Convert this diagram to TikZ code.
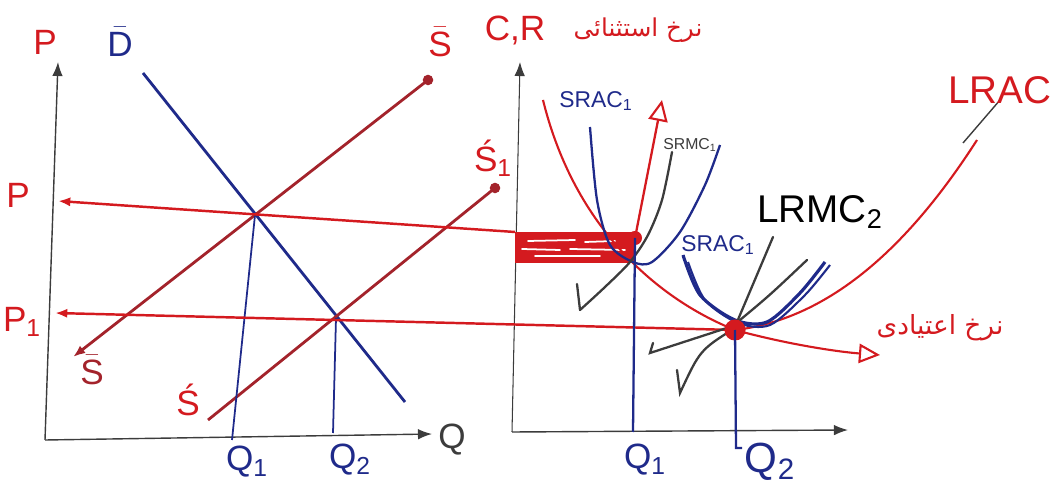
\documentclass[tikz,border=0pt]{standalone}
\usepackage{fontspec}
\setmainfont{Liberation Sans}
\newfontfamily\arabicfont[Script=Arabic]{DejaVu Sans}
\TeXXeTstate=1
\usetikzlibrary{arrows.meta}
\definecolor{penred}{HTML}{D41A1F}
\definecolor{supred}{HTML}{A3232B}
\definecolor{inkblue}{HTML}{1F2A8A}
\definecolor{pencil}{HTML}{3C3C3C}

\begin{document}
\begin{tikzpicture}[
  x=0.02cm, y=-0.02cm,
  axisline/.style={pencil, line width=0.8pt, -{Latex[length=8pt,width=6pt]}},
  priceline/.style={penred, line width=1.4pt},
  supline/.style={supred, line width=1.6pt},
  demline/.style={inkblue, line width=1.6pt},
  qline/.style={inkblue, line width=1pt},
  mcline/.style={pencil, line width=1.3pt, line cap=round},
  redlab/.style={penred, inner sep=0pt, font=\fontsize{20}{20}\selectfont},
  bluelab/.style={inkblue, inner sep=0pt, font=\fontsize{20}{20}\selectfont},
  smalllab/.style={inkblue, inner sep=0pt, font=\fontsize{13}{13}\selectfont},
  farsilab/.style={penred, inner sep=0pt, font=\arabicfont\fontsize{14}{14}\selectfont},
  reddot/.style={circle, fill=penred, inner sep=0pt, minimum size=#1},
  opentip/.style={-{Triangle[open, length=12pt, width=11pt, line width=1.2pt]}}
]
\useasboundingbox (0,0) rectangle (1054,499);

% Left panel: market axes
\coordinate (o1) at (45,440);
\coordinate (py) at (58,62);
\coordinate (qx) at (432,434);
\draw[axisline] (o1) -- (py);
\draw[axisline] (o1) -- (qx);

% Demand and the two supply lines
\coordinate (d0) at (143,73);   \coordinate (d1) at (405,402);
\coordinate (s0) at (73,357);   \coordinate (s1) at (428,80);
\coordinate (t0) at (208,420);  \coordinate (t1) at (495,188);
\draw[demline] (d0) -- (d1);
\draw[supline, {Latex[length=7pt]}-] (s0) -- (s1);
\draw[supline] (t0) -- (t1);
\node[reddot=6pt, fill=supred] (s1d) at (s1) {};
\node[reddot=6pt, fill=supred] (t1d) at (t1) {};

% Equilibria and quantities
\coordinate (e1) at (255,215);
\coordinate (e2) at (336,318);
\coordinate (q1) at (232,440);
\coordinate (q2) at (333,433);
\draw[qline] (e1) -- (q1);
\draw[qline] (e2) -- (q2);

% Right panel: cost axes
\coordinate (o2) at (512,432);
\coordinate (cy) at (520,62);
\coordinate (cx) at (848,430);
\draw[axisline, line width=0.6pt] (o2) -- (cy);
\draw[axisline] (o2) -- (cx);

% Shaded band at the exceptional price
\fill[penred] (515,232) rectangle (635,263);
\draw[white, line width=1pt, line cap=round] (528,241) -- (575,240) (585,242) -- (615,241);
\draw[white, line width=1pt, line cap=round] (522,249) -- (560,250) (570,249) -- (625,250);
\draw[white, line width=1pt, line cap=round] (535,256) -- (600,256);
\coordinate (bandL) at (515,232);
\coordinate (ex) at (635,238);
\node[reddot=8pt] (exd) at (ex) {};

% Price lines running across both panels
\coordinate (pl) at (58,201);
\coordinate (p1l) at (55,313);
\coordinate (nm) at (735,330);
\draw[priceline, {Latex[length=7pt]}-] (pl) -- (bandL);
\draw[priceline, {Latex[length=7pt]}-] (p1l) -- (nm);

% Red curves: falling price path and LRAC
\draw[penred, line width=1.2pt] (543,100) .. controls (575,230) and (660,300) .. (nm);
\draw[penred, line width=1.2pt, opentip] (nm) .. controls (790,345) and (840,352) .. (880,355);
\draw[penred, line width=1.2pt] (nm) .. controls (820,320) and (900,260) .. (977,140);
\draw[pencil, line width=0.8pt] (963,143) -- (1000,100);
\draw[penred, line width=1.3pt, opentip] (ex) -- (662,100);

% SRAC_1 and SRMC_1
\draw[inkblue, line width=1.3pt] plot[smooth] coordinates {(590,127) (597,200) (610,245) (633,262) (652,262) (680,232) (705,185) (720,145)};
\draw[mcline] plot[smooth] coordinates {(580,310) (605,287) (630,262) (648,235) (662,200) (672,152)};
\draw[mcline] (580,310) -- (577,284);

% Second plant: SRAC curve and the LRMC_2 fan
\draw[inkblue, line width=1.8pt] plot[smooth] coordinates {(683,255) (700,295) (735,320) (767,322) (800,293) (825,262)};
\draw[inkblue, line width=1.2pt] plot[smooth] coordinates {(688,262) (705,300) (738,323) (770,325) (805,295) (830,265)};
\draw[mcline] (737,322) -- (773,237);
\draw[mcline] (740,320) .. controls (770,295) .. (807,260);
\draw[mcline] (733,326) -- (650,353) -- (653,343);
\draw[mcline] (735,328) .. controls (700,350) .. (680,393) -- (677,370);
\node[reddot=12pt] (nmd) at (nm) {};

% Quantities in the cost panel
\coordinate (qa) at (633,432);
\coordinate (qb) at (736,448);
\coordinate (qbh) at (742,448);
\draw[qline, line width=1.3pt] (ex) -- (qa);
\draw[qline, line width=1.3pt] (nm) -- (qb) -- (qbh);

% Labels, left panel
\node[redlab] (lp) at (45,42) {P};
\node[bluelab] (ld) at (120,42) {$\bar{\mathrm{D}}$};
\node[redlab] (ls) at (440,42) {$\bar{\mathrm{S}}$};
\node[redlab] (ls1) at (493,158) {\'S\textsubscript{1}};
\node[redlab] (lpp) at (18,195) {P};
\node[redlab] (lp1) at (22,322) {P\textsubscript{1}};
\node[redlab, text=supred] (lsb) at (92,370) {$\bar{\mathrm{S}}$};
\node[redlab] (lsc) at (188,400) {\'S};
\node[bluelab] (lq1) at (247,462) {Q\textsubscript{1}};
\node[bluelab] (lq2) at (350,460) {Q\textsubscript{2}};
\node[bluelab, text=pencil] (lq) at (452,440) {Q};

% Labels, right panel
\node[redlab] (lcr) at (515,30) {C,R};
\node[farsilab] (lex) at (638,30) {\beginR نرخ استثنائی\endR};
\node[smalllab] (lsa1) at (596,101) {SRAC\textsubscript{1}};
\node[smalllab, text=pencil, font=\fontsize{9}{9}\selectfont] (lsm1) at (690,145) {SRMC\textsubscript{1}};
\node[redlab, text=black, font=\fontsize{22}{22}\selectfont] (llm) at (820,212) {LRMC\textsubscript{2}};
\node[smalllab] (lsa2) at (718,245) {SRAC\textsubscript{1}};
\node[redlab, font=\fontsize{22}{22}\selectfont] (llr) at (1000,90) {LRAC};
\node[farsilab, font=\arabicfont\fontsize{15}{15}\selectfont] (lnm) at (940,328) {\beginR نرخ اعتیادی\endR};
\node[bluelab] (lqa) at (645,460) {Q\textsubscript{1}};
\node[bluelab, font=\fontsize{24}{24}\selectfont] (lqb) at (770,462) {Q\textsubscript{2}};
\end{tikzpicture}
\end{document}
